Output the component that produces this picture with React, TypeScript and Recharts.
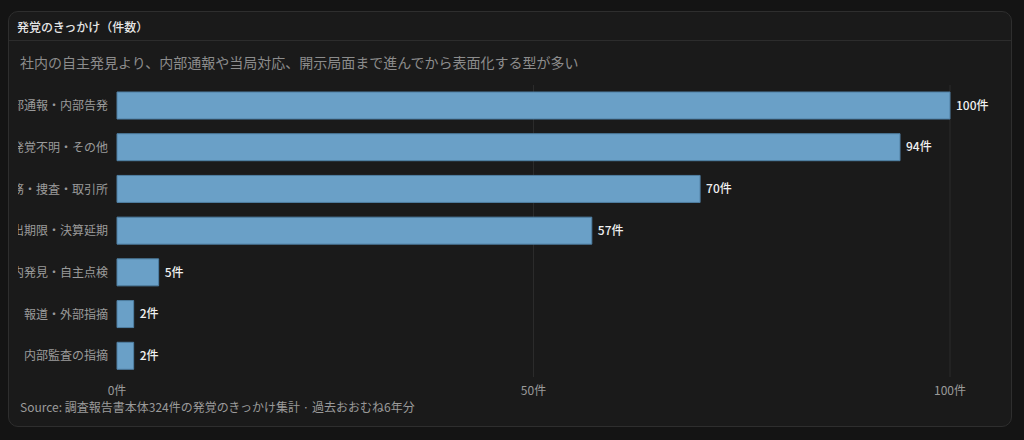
import { BarChart, Bar, XAxis, YAxis, CartesianGrid, LabelList } from "recharts";

const triggers = [
  "内部通報・内部告発",
  "発覚不明・その他",
  "当局・税務・捜査・取引所",
  "提出期限・決算延期",
  "社内発見・自主点検",
  "報道・外部指摘",
  "内部監査の指摘",
];
const counts = [100, 94, 70, 57, 5, 2, 2];
const xTicks = [0, 50, 100];

const rows = triggers.map((name, i) => ({ name, count: counts[i] }));

const font = '"Noto Sans CJK JP", "Noto Sans", sans-serif';

export default function App() {
  return (
    <div style={{ width: 1024, height: 440, background: "#141414", position: "relative", fontFamily: font }}>
      <style>{`body{margin:0;background:#141414}`}</style>
      <div
        style={{
          position: "absolute",
          left: 8,
          top: 11,
          width: 1002,
          height: 414,
          border: "1px solid #2e2e2e",
          borderRadius: 10,
          background: "#1a1a1a",
          overflow: "hidden",
        }}
      >
        <div
          style={{
            height: 28,
            borderBottom: "1px solid #2c2c2c",
            display: "flex",
            alignItems: "center",
            paddingLeft: 8,
            fontSize: 12,
            fontWeight: 500,
            color: "#e6e6e6",
          }}
        >
          発覚のきっかけ（件数）
        </div>
        <div style={{ position: "absolute", left: 11, top: 40, fontSize: 14, color: "#8c8c8c" }}>
          社内の自主発見より、内部通報や当局対応、開示局面まで進んでから表面化する型が多い
        </div>
        <div style={{ position: "absolute", left: 9, top: 65 }}>
          <BarChart
            width={980}
            height={330}
            data={rows}
            layout="vertical"
            margin={{ top: 8, right: 48, bottom: 0, left: 0 }}
            barSize={27}
          >
            <CartesianGrid horizontal={false} stroke="#2b2b2b" verticalValues={[50, 100]} />
            <XAxis
              type="number"
              domain={[0, 100]}
              ticks={xTicks}
              tickFormatter={(v) => `${v}件`}
              axisLine={false}
              tickLine={false}
              tickMargin={3}
              tick={{ fontSize: 12, fill: "#9a9a9a", fontFamily: font }}
              height={30}
            />
            <YAxis
              type="category"
              dataKey="name"
              width={99}
              axisLine={false}
              tickLine={false}
              tickMargin={3}
              interval={0}
              tick={{ fontSize: 12, fill: "#9a9a9a", fontFamily: font }}
            />
            <Bar dataKey="count" fill="#6aa0c7" stroke="#4f7fa3" strokeWidth={1} isAnimationActive={false}>
              <LabelList
                dataKey="count"
                position="right"
                offset={6}
                formatter={(v) => `${v}件`}
                style={{ fontSize: 12, fontWeight: 500, fill: "#f0f0f0", fontFamily: font }}
              />
            </Bar>
          </BarChart>
        </div>
        <div style={{ position: "absolute", left: 11, top: 386, fontSize: 12, color: "#9a9a9a" }}>
          Source: 調査報告書本体324件の発覚のきっかけ集計 · 過去おおむね6年分
        </div>
      </div>
    </div>
  );
}
